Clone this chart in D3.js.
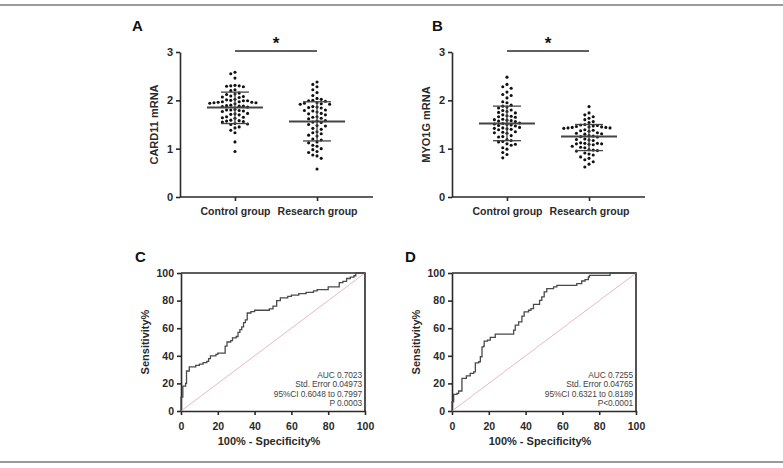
<!DOCTYPE html>
<html>
<head>
<meta charset="utf-8">
<script src="https://cdn.jsdelivr.net/npm/d3@7"></script>
<style>
  body { margin: 0; background: #fff; }
  svg { display: block; font-family: "Liberation Sans", Arial, sans-serif; }
</style>
</head>
<body>
<div id="fig"></div>
<script>
"use strict"

// ---- data ----
const groups = ["Control group", "Research group"];

const card11Control = [2.58, 2.55, 2.46, 2.31, 2.30, 2.30, 2.29, 2.28, 2.22, 2.20,
  2.15, 2.13, 2.12, 2.09, 2.08, 2.07, 2.06, 2.02, 2.01, 2.00, 1.99, 1.99,
  1.97, 1.97, 1.96, 1.96, 1.95, 1.95, 1.94, 1.93, 1.90, 1.89, 1.88, 1.88, 1.87, 1.86,
  1.81, 1.80, 1.80, 1.79, 1.78, 1.77, 1.73, 1.72, 1.71, 1.70, 1.66, 1.65, 1.64, 1.63,
  1.59, 1.58, 1.57, 1.56, 1.55, 1.52, 1.51, 1.50, 1.45, 1.43, 1.38, 1.33, 1.14, 0.94];
const card11Research = [2.38, 2.33, 2.28, 2.22, 2.16, 2.10, 2.04, 2.02, 2.00, 1.99, 1.98,
  1.95, 1.94, 1.93, 1.92, 1.92, 1.87, 1.86, 1.85, 1.84, 1.80, 1.79, 1.78, 1.76,
  1.73, 1.72, 1.70, 1.66, 1.65, 1.63, 1.62, 1.58, 1.57, 1.55, 1.54, 1.50, 1.48, 1.47,
  1.42, 1.40, 1.35, 1.33, 1.31, 1.28, 1.26, 1.20, 1.18, 1.14, 1.12, 1.07, 1.05,
  1.00, 0.98, 0.94, 0.92, 0.87, 0.85, 0.80, 0.58];
const myo1gControl = [2.48, 2.33, 2.28, 2.25, 2.17, 2.12, 2.10, 2.05, 1.97, 1.95,
  1.90, 1.88, 1.86, 1.84, 1.80, 1.79, 1.77, 1.75, 1.74, 1.70, 1.68, 1.67, 1.66, 1.65,
  1.61, 1.60, 1.59, 1.58, 1.57, 1.56, 1.53, 1.52, 1.51, 1.50, 1.49, 1.48, 1.47,
  1.44, 1.43, 1.42, 1.41, 1.40, 1.39, 1.35, 1.34, 1.33, 1.32, 1.27, 1.25, 1.24,
  1.19, 1.17, 1.15, 1.14, 1.10, 1.09, 1.07, 1.02, 0.99, 0.92, 0.88, 0.81];
const myo1gResearch = [1.87, 1.74, 1.70, 1.66, 1.63, 1.60, 1.56, 1.54, 1.50, 1.49, 1.48, 1.47,
  1.46, 1.45, 1.45, 1.44, 1.44, 1.43, 1.43, 1.42, 1.39, 1.38, 1.37, 1.36,
  1.33, 1.32, 1.31, 1.30, 1.27, 1.26, 1.25, 1.24, 1.20, 1.19, 1.18, 1.17,
  1.12, 1.11, 1.11, 1.10, 1.10, 1.09, 1.08, 1.05, 1.03, 1.02, 0.98, 0.97, 0.96, 0.95,
  0.91, 0.89, 0.87, 0.83, 0.80, 0.77, 0.73, 0.68, 0.62];

// mean and mean±SD lines: [mean, upper, lower]
const card11Stats = [[1.85, 2.17, 1.52], [1.56, 1.97, 1.16]];
const myo1gStats = [[1.52, 1.88, 1.165], [1.25, 1.50, 0.96]];

const mrnaTicks = [0, 1, 2, 3];
const rocTicks = [0, 20, 40, 60, 80, 100];

// ROC points: [100% - specificity, sensitivity]
const rocCard11 = [[0, 0], [0, 10], [1, 10], [1, 18], [2.5, 18], [2.5, 20], [3, 20], [3, 29],
  [4.5, 29], [4.5, 32], [8, 32], [8, 33], [10, 34], [12, 35], [14, 36], [15, 38], [16, 40],
  [18, 40], [19, 41], [20, 42], [24, 42], [24, 47], [25, 50], [27, 51], [28, 53], [30, 54],
  [31, 57], [32, 59], [33, 61], [34, 64], [35, 66], [36, 66], [36, 71], [38, 72], [40, 73],
  [46, 73], [48, 74], [50, 76], [52, 76], [52, 80], [54, 82], [58, 83], [60, 84], [64, 85],
  [68, 86], [72, 87], [74, 88], [78, 88], [80, 90], [86, 91], [86, 93], [88, 94], [90, 96],
  [92, 97], [94, 98], [95, 99], [95, 100], [100, 100]];
const rocMyo1g = [[0, 0], [0, 6.7], [0.9, 6.7], [0.9, 12], [2.7, 12.8], [3.6, 14.5], [5.4, 15.7],
  [5.4, 23.6], [7.2, 23.6], [7.8, 25.5], [9.9, 27.2], [11.8, 28.4], [12.7, 29.6], [12.7, 34.9],
  [14.5, 35.7], [15.4, 39.3], [16.3, 46.5], [17.2, 47], [17.5, 50.6], [19.3, 51.3], [20.8, 53.3],
  [23.5, 55.7], [32.5, 55.7], [33.5, 58.6], [34.4, 62.2], [36.2, 64.6], [38, 68.7], [39.2, 71.8],
  [41.6, 73], [42.9, 74.2], [44.3, 77.3], [47, 77.3], [47.6, 80.2], [48.8, 82.7], [50.1, 86.3],
  [51.5, 88.7], [55.2, 89.9], [57, 91], [66, 91], [67.8, 92.3], [70.5, 94.2], [72.3, 95.2],
  [74.1, 97.1], [74.7, 98.3], [85.9, 98.3], [85.9, 100], [100, 100]];

const statsC = ["AUC 0.7023", "Std. Error 0.04973", "95%CI 0.6048 to 0.7997", "P 0.0003"];
const statsD = ["AUC 0.7255", "Std. Error 0.04765", "95%CI 0.6321 to 0.8189", "P<0.0001"];

// ---- drawing ----
const W = 783, H = 468;
const ink = "#2a2a2a";

const svg = d3.select("#fig").append("svg")
  .attr("width", W)
  .attr("height", H);

// grey rules at top and bottom of the figure
svg.append("rect").attr("x", 0).attr("y", 4).attr("width", W).attr("height", 2).attr("fill", "#9a9a9a");
svg.append("rect").attr("x", 0).attr("y", 461).attr("width", W).attr("height", 2).attr("fill", "#9a9a9a");

function panelLetter(x, y, txt) {
  svg.append("text")
    .attr("x", x).attr("y", y)
    .attr("font-size", 15).attr("font-weight", "bold")
    .attr("fill", "#111")
    .text(txt);
}

function styleAxis(g) {
  g.selectAll("path, line").attr("stroke", ink).attr("stroke-width", 1.6);
  g.selectAll("text").attr("fill", ink).attr("font-weight", "bold")
    .attr("font-family", "Liberation Sans, Arial, sans-serif");
}

// place dots so they do not overlap, GraphPad style
function swarm(values, yScale, cx) {
  let placed = [];
  let step = 4.2, minD = 3.9;
  let sorted = values.slice().sort((a, b) => b - a);
  for (let v of sorted) {
    let y = yScale(v);
    for (let k = 0; k < 40; k++) {
      let off = (k % 2 === 0 ? 1 : -1) * Math.ceil(k / 2) * step;
      let ok = placed.every(p => (p.x - (cx + off)) ** 2 + (p.y - y) ** 2 >= minD * minD);
      if (ok) {
        placed.push({ x: cx + off, y: y });
        break;
      }
    }
  }
  return placed;
}

function drawScatter(opt) {
  let x = d3.scalePoint().domain(groups).range([opt.x0, opt.x0 + 192]).padding(0.67);
  let y = d3.scaleLinear().domain([0, 3]).range([197, 52]);

  let g = svg.append("g");

  g.append("g")
    .attr("transform", `translate(${opt.x0},0)`)
    .call(d3.axisLeft(y).tickValues(mrnaTicks).tickFormat(d3.format("d")).tickSize(4).tickSizeOuter(0))
    .call(styleAxis)
    .selectAll("text").attr("font-size", 11);

  g.append("g")
    .attr("transform", `translate(0,197)`)
    .call(d3.axisBottom(x).tickSize(4).tickSizeOuter(0))
    .call(styleAxis)
    .call(a => a.select(".domain").attr("d", `M${opt.x0},0H${opt.x0 + 193}`))
    .selectAll("text").attr("font-size", 10.5).attr("dy", "1.05em");

  g.append("text")
    .attr("transform", `translate(${opt.x0 - 22},${y(1.5)}) rotate(-90)`)
    .attr("text-anchor", "middle")
    .attr("font-size", 11).attr("font-weight", "bold").attr("fill", ink)
    .text(opt.label);

  opt.series.forEach((vals, i) => {
    let cx = x(groups[i]);
    let pts = swarm(vals, y, cx);
    g.append("g").selectAll("circle")
      .data(pts)
      .enter()
      .append("circle")
        .attr("cx", d => d.x)
        .attr("cy", d => d.y)
        .attr("r", 1.55)
        .attr("fill", "#111");

    let [m, hi, lo] = opt.stats[i];
    let lines = g.append("g").attr("stroke", "#444").attr("fill", "none");
    lines.append("line").attr("x1", cx - 28).attr("x2", cx + 28).attr("y1", y(m)).attr("y2", y(m)).attr("stroke-width", 2);
    lines.append("line").attr("x1", cx - 14).attr("x2", cx + 14).attr("y1", y(hi)).attr("y2", y(hi)).attr("stroke-width", 1.3);
    lines.append("line").attr("x1", cx - 14).attr("x2", cx + 14).attr("y1", y(lo)).attr("y2", y(lo)).attr("stroke-width", 1.3);
    lines.append("line").attr("x1", cx).attr("x2", cx).attr("y1", y(hi)).attr("y2", y(lo)).attr("stroke-width", 1.3);
  });

  // significance bar
  g.append("line")
    .attr("x1", x(groups[0])).attr("x2", x(groups[1]))
    .attr("y1", 51).attr("y2", 51)
    .attr("stroke", ink).attr("stroke-width", 1.6);
  g.append("text")
    .attr("x", (x(groups[0]) + x(groups[1])) / 2).attr("y", 49)
    .attr("text-anchor", "middle")
    .attr("font-size", 17).attr("font-weight", "bold").attr("fill", "#111")
    .text("*");
}

function drawRoc(opt) {
  let x = d3.scaleLinear().domain([0, 100]).range([opt.x0, opt.x0 + 184]);
  let y = d3.scaleLinear().domain([0, 100]).range([411, 273]);
  let g = svg.append("g");

  g.append("g")
    .attr("transform", `translate(${opt.x0},0)`)
    .call(d3.axisLeft(y).tickValues(rocTicks).tickSize(4).tickSizeOuter(0))
    .call(styleAxis)
    .selectAll("text").attr("font-size", 10.5);

  g.append("g")
    .attr("transform", `translate(0,411)`)
    .call(d3.axisBottom(x).tickValues(rocTicks).tickSize(4).tickSizeOuter(0))
    .call(styleAxis)
    .selectAll("text").attr("font-size", 10.5).attr("dy", "1.1em");

  // top and right frame
  g.append("path")
    .attr("d", `M${x(0)},${y(100)}H${x(100)}V${y(0)}`)
    .attr("fill", "none").attr("stroke", ink).attr("stroke-width", 1.6);

  // reference diagonal
  g.append("line")
    .attr("x1", x(0)).attr("y1", y(0)).attr("x2", x(100)).attr("y2", y(100))
    .attr("stroke", "#e9b9bd").attr("stroke-width", 1);

  g.append("path")
    .datum(opt.roc)
    .attr("d", d3.line().x(d => x(d[0])).y(d => y(d[1])).curve(d3.curveStepAfter))
    .attr("fill", "none").attr("stroke", "#4a4a4a").attr("stroke-width", 1.3);

  g.append("g").selectAll("text")
    .data(opt.stats)
    .enter()
    .append("text")
      .attr("x", x(100) - 3)
      .attr("y", (d, i) => 378 + i * 9.3)
      .attr("text-anchor", "end")
      .attr("font-size", 8.4).attr("letter-spacing", -0.1)
      .attr("fill", "#444")
      .text(d => d);

  g.append("text")
    .attr("transform", `translate(${opt.x0 - 32},${y(50)}) rotate(-90)`)
    .attr("text-anchor", "middle")
    .attr("font-size", 11).attr("font-weight", "bold").attr("fill", ink)
    .text("Sensitivity%");

  g.append("text")
    .attr("x", x(50) - 4).attr("y", 445)
    .attr("text-anchor", "middle")
    .attr("font-size", 11).attr("font-weight", "bold").attr("fill", ink)
    .text("100% - Specificity%");
}

panelLetter(132, 31, "A");
panelLetter(432, 31, "B");
panelLetter(135, 262, "C");
panelLetter(405, 262, "D");

drawScatter({ x0: 180, label: "CARD11 mRNA", series: [card11Control, card11Research], stats: card11Stats });
drawScatter({ x0: 452, label: "MYO1G mRNA", series: [myo1gControl, myo1gResearch], stats: myo1gStats });
drawRoc({ x0: 181, roc: rocCard11, stats: statsC });
drawRoc({ x0: 452, roc: rocMyo1g, stats: statsD });
</script>
</body>
</html>
